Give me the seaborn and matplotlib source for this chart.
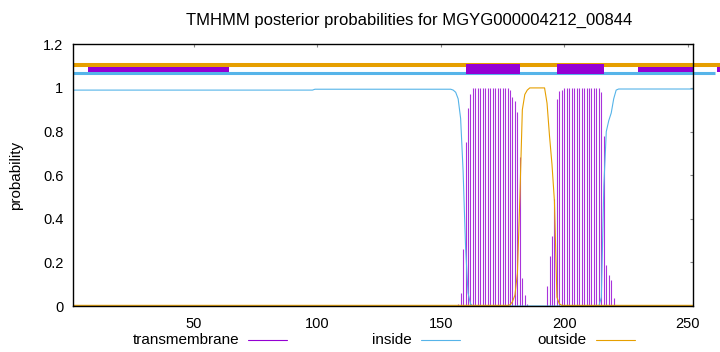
import numpy as np
import pandas as pd
import matplotlib
matplotlib.use("Agg")
import matplotlib.pyplot as plt
from matplotlib.lines import Line2D
import seaborn as sns

sns.set_style("white")
plt.rcParams['font.family'] = ['Liberation Sans', 'DejaVu Sans']
plt.rcParams['text.color'] = 'black'

# ---------------- data ----------------
seq_len = 252
residues = list(range(1, seq_len + 1))

# transmembrane posterior probability (impulses); zero outside 155..222
tm_start = 155
tm_segment = [0.0, 0.0, 0.01, 0.06, 0.26, 0.75, 0.91, 0.97,            # 155-162
              1.0, 1.0, 1.0, 1.0, 1.0, 1.0, 1.0, 1.0, 1.0, 1.0, 1.0, 1.0, 1.0, 1.0, 1.0,  # 163-177
              0.99, 0.96, 0.94, 0.89, 0.685, 0.13, 0.05, 0.01,       # 178-185
              0.0, 0.0, 0.0, 0.0, 0.0, 0.0, 0.0,                     # 186-192
              0.09, 0.23, 0.32, 0.49, 0.95, 0.985, 0.99,             # 193-199
              1.0, 1.0, 1.0, 1.0, 1.0, 1.0, 1.0, 1.0, 1.0, 1.0, 1.0, 1.0, 1.0, 1.0, 1.0,  # 200-214
              0.98, 0.78, 0.19, 0.14, 0.12, 0.035, 0.0, 0.0]         # 215-222

# inside posterior probability
inside_values = ([0.99] * 98 + [0.994] * 56 +                          # 1-154
                 [0.99, 0.98, 0.95, 0.86, 0.62, 0.27, 0.06, 0.01] +   # 155-162
                 [0.0] * 52 +                                        # 163-214
                 [0.04, 0.55, 0.8, 0.85, 0.885, 0.95, 0.99] +         # 215-221
                 [0.995] * 31)                                       # 222-252

# outside posterior probability
outside_values = ([0.003] * 177 +                                     # 1-177
                  [0.005, 0.02, 0.05, 0.15, 0.5, 0.9, 0.97, 0.99] +   # 178-185
                  [1.0] * 7 +                                         # 186-192
                  [0.93, 0.78, 0.65, 0.48, 0.04, 0.01] +              # 193-198
                  [0.003] * 54)                                       # 199-252

# predicted topology bars at the top of the plot
tm_regions = [(160, 182), (197, 216)]
other_regions = [(7, 64), (230, 252), (262, 264)]
outside_bar_span = (1, 264)
inside_bar_span = (1, 261)

x_ticks = [50, 100, 150, 200, 250]
y_ticks = [0, 0.2, 0.4, 0.6, 0.8, 1.0, 1.2]
y_tick_labels = ["0", "0.2", "0.4", "0.6", "0.8", "1", "1.2"]
title = "TMHMM posterior probabilities for MGYG000004212_00844"
legend_labels = ["transmembrane", "inside", "outside"]

# ---------------- build table ----------------
tm_values = [0.0] * seq_len
for i, v in enumerate(tm_segment):
    tm_values[tm_start - 1 + i] = v
df = pd.DataFrame({"pos": residues, "tm": tm_values,
                   "inside": inside_values, "outside": outside_values})

PURPLE = "#9400D3"
BLUE = "#56B4E9"
ORANGE = "#E69F00"

W, H = 720, 352
fig = plt.figure(figsize=(W / 100, H / 100), dpi=100)
ax = fig.add_axes([73 / W, 1 - 306 / H, (692.7 - 73) / W, (306 - 44.3) / H])

# impulses
nz = df[df.tm > 0]
ax.vlines(nz.pos, 0, nz.tm, color=PURPLE, linewidth=0.8, alpha=0.8, zorder=2)

# lines
sns.lineplot(data=df, x="pos", y="inside", color=BLUE, linewidth=0.8, ax=ax, zorder=3)
sns.lineplot(data=df, x="pos", y="outside", color=ORANGE, linewidth=0.8, ax=ax, zorder=3)

# topology bars
ax.hlines(1.105, *outside_bar_span, color=ORANGE, linewidth=2.9, clip_on=False, zorder=3)
ax.hlines(1.067, *inside_bar_span, color=BLUE, linewidth=2.2, clip_on=False, zorder=3)
ax.broken_barh([(a, b - a) for a, b in other_regions], (1.072, 0.025),
               facecolor=PURPLE, edgecolor="none", linewidth=0,
               clip_on=False, zorder=4)
ax.broken_barh([(a, b - a) for a, b in tm_regions], (1.062, 0.049),
               facecolor=PURPLE, edgecolor="none", linewidth=0,
               clip_on=False, zorder=4)

ax.set_xlim(1, seq_len)
ax.set_ylim(0, 1.2)
ax.set_xticks(x_ticks)
ax.set_yticks(y_ticks)
ax.set_yticklabels(y_tick_labels)
ax.set_xlabel("")
ax.set_ylabel("")
ax.tick_params(direction="in", length=2.5, width=0.8, color="#888888",
               top=True, right=True, labelsize=10.5, labelcolor="black")
ax.tick_params(axis="x", pad=8)
ax.tick_params(axis="y", pad=7)
for s in ax.spines.values():
    s.set_color("black")
    s.set_linewidth(1.0)
    s.set_zorder(5)

fig.text(409 / W, 1 - 20 / H, title, ha="center", va="center", fontsize=12,
         color="black")
fig.text(16 / W, 1 - 175 / H, "probability", rotation=90, ha="center",
         va="center", fontsize=11, color="black")

# legend (gnuplot style: text then sample)
for label, col, x0 in zip(legend_labels, [PURPLE, BLUE, ORANGE], [248, 421, 596]):
    yy = 1 - 340 / H
    fig.text((x0 - 9) / W, yy, label, ha="right", va="center", fontsize=11,
             color="black")
    fig.add_artist(Line2D([x0 / W, (x0 + 39) / W], [yy, yy], color=col,
                          linewidth=0.8, transform=fig.transFigure))

fig.savefig("out.png", dpi=100)
